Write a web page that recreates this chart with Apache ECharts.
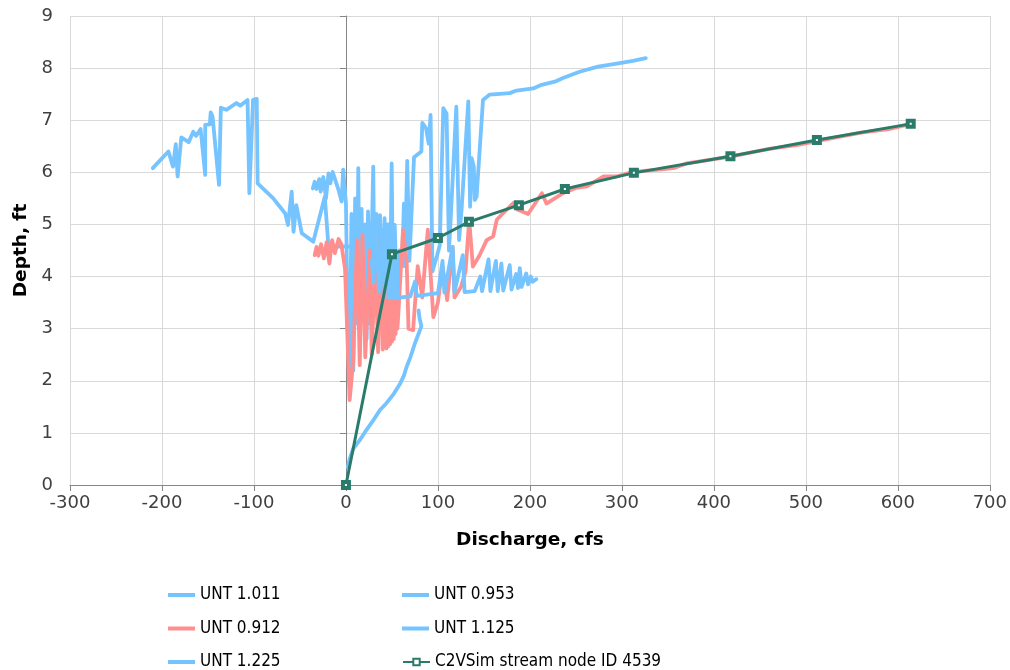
<!DOCTYPE html>
<html>
<head>
<meta charset="utf-8">
<script src="https://cdn.jsdelivr.net/npm/echarts@6/dist/echarts.min.js"></script>
<style>html,body{margin:0;padding:0;background:#fff;}#c{width:1010px;height:670px;}</style>
</head>
<body>
<div id="c"></div>
<script>
// ---- data (discharge cfs, depth ft) ----
var unt1011 = [[-210,6.08],[-193,6.40],[-188,6.11],[-185,6.54],[-183,5.92],[-179,6.67],[-171,6.58],[-166,6.78],[-163,6.70],[-158,6.83],[-153,5.95],[-153,6.91],[-148,6.92],[-147,7.15],[-145,7.07],[-138,5.76],[-136,7.24],[-130,7.20],[-119,7.33],[-115,7.28],[-107,7.39],[-105,5.60],[-101,7.39],[-97,7.41],[-96,5.79],[-79,5.50],[-66,5.21],[-64.5,5.18],[-63,4.99],[-59,5.63],[-57,4.86],[-54,5.37],[-48,4.83],[-35.5,4.67],[-23,5.53],[-19,4.57],[0,4.58],[15,4.57]];
var unt0953 = [[-36,5.69],[-34,5.82],[-32,5.68],[-29,5.87],[-27.5,5.63],[-24.6,5.91],[-21.7,5.50],[-19,5.98],[-17,5.79],[-14.5,6.01],[-8,5.66],[-4.7,5.44],[-3,6.05],[0,5.41],[2,3.0],[4,2.1],[6,5.2],[8,2.2],[10,5.5],[12,3.1],[13.4,6.08],[15,2.85],[17,5.3],[19,3.2],[21,5.0],[22.5,2.8],[24,5.25],[26,3.1],[29.7,6.11],[31,3.6],[33,5.2],[35,3.4],[37,5.18],[39,3.7],[42,5.12],[44,3.5],[46,5.0],[48,3.61],[49.7,6.17],[51,4.0],[53,4.99],[55,3.9],[58,4.5],[61,4.2],[63,5.4],[64,4.2],[66.6,6.22],[69,4.3],[74,6.29],[82,6.40],[83,6.95],[87,6.85],[90,6.55],[92,7.10],[94,4.1],[99,4.4],[102,4.6],[105.8,7.23],[109.4,7.13],[112,4.5],[114,5.15],[120,7.26],[123,4.7],[125.7,5.28],[133,7.36],[135,5.34],[136.6,6.27],[139,6.11],[140,5.47],[142,5.53],[149,7.39],[156,7.49],[164,7.50],[178,7.52],[185.5,7.57],[203.6,7.61],[212.7,7.68],[227,7.74],[236,7.81],[254,7.93],[274,8.03],[296,8.09],[312,8.14],[326,8.19]];
var unt0912 = [[-34,4.41],[-32,4.57],[-30,4.40],[-27,4.62],[-24,4.35],[-21,4.66],[-18,4.25],[-15,4.70],[-12,4.45],[-8,4.72],[-5,4.62],[-1,4.15],[4,1.63],[8,2.4],[12,4.7],[15,2.3],[18,4.8],[21,2.45],[26,4.5],[28,2.5],[32,4.3],[35,2.55],[38,4.85],[40,2.6],[42,4.2],[44,2.62],[45,4.0],[46,2.66],[47,3.95],[48,2.7],[49,3.9],[50,2.75],[51,3.9],[52,2.8],[53,3.85],[54,2.9],[55,3.8],[56,3.0],[58,3.6],[62,4.89],[66,4.3],[68,3.0],[73,2.97],[78,4.2],[83,3.6],[89,4.9],[95,3.22],[100,3.5],[105,4.2],[110,3.55],[116,4.57],[118,3.6],[125,3.8],[130,4.1],[134,5.09],[138,4.19],[145,4.4],[153,4.7],[160,4.77],[164,5.09],[170,5.2],[182,5.41],[187,5.28],[198,5.2],[213,5.6],[218,5.4],[236,5.6],[250,5.7],[262,5.73],[280,5.92],[294,5.92],[312,6.01],[340,6.05],[356,6.08],[370,6.17],[385,6.21],[418,6.30],[460,6.45],[490,6.52],[512,6.60],[560,6.76],[590,6.83],[612,6.92]];
var unt1125 = [[28,4.3],[30,3.9],[33,4.8],[36,3.7],[39,4.9],[42,3.6],[45,5.0],[47,3.6],[48,4.6],[50,3.6],[51,4.5],[52,3.6],[53,4.4],[54,3.6],[55,4.3],[57,3.58],[60,3.6],[70,3.62],[75,3.9],[77,3.63],[90,3.66],[100,3.68],[105,4.3],[107,3.69],[116,4.57],[118,3.7],[127,4.41],[129,3.7],[140,3.72],[146,4.0],[148,3.72],[155,4.33],[157,3.72],[163,4.3],[165,3.72],[169,4.25],[171,3.73],[178,4.22],[180,3.75],[185,4.05],[187,3.78],[189,4.16],[191,3.8],[196,4.06],[198,3.85],[201,4.0],[203,3.9],[207,3.95]];
var unt1225 = [[2,0.34],[4,0.5],[8,0.7],[15,0.86],[22,1.05],[30,1.25],[37,1.44],[44,1.57],[52,1.75],[59,1.95],[63,2.1],[66,2.27],[70,2.45],[75,2.72],[80,2.95],[82,3.05],[80,3.2],[79,3.35]];
var c2vsim = [[0,0],[50,4.43],[100,4.74],[133.7,5.05],[188,5.37],[238,5.68],[313,5.99],[418,6.31],[512,6.62],[614,6.93]];
var seriesNames = ['UNT 1.011','UNT 0.953','UNT 0.912','UNT 1.125','UNT 1.225','C2VSim stream node ID 4539'];

var BLUE = '#75C3FF', RED = '#FF8F8F', GREEN = '#2B7B6B';
function ln(name, data, color) {
  return { name: name, type: 'line', data: data, showSymbol: false, symbol: 'none',
    lineStyle: { color: color, width: 3.8, join: 'round', cap: 'round' }, itemStyle: { color: color } };
}
var legendText = { fontFamily: "'DejaVu Sans Condensed', 'DejaVu Sans', sans-serif", fontSize: 17, color: '#000', lineHeight: 20 };
function lg(left, top, names, plain) {
  var o = { orient: 'vertical', left: left, top: top, height: 120, itemWidth: plain ? 27 : 27, itemHeight: plain ? 4 : 8,
    itemGap: 13.5, textStyle: legendText, data: names };
  if (plain) o.icon = 'rect';
  return o;
}
var chart = echarts.init(document.getElementById('c'));
var axisFont = { fontFamily: 'DejaVu Sans', fontSize: 18, color: '#404040' };
var titleFont = { fontFamily: 'DejaVu Sans', fontWeight: 'bold', fontSize: 18.5, color: '#000' };
chart.setOption({
  animation: false,
  backgroundColor: '#fff',
  grid: { left: 70, right: 20, top: 16, bottom: 185 },
  xAxis: { type: 'value', min: -300, max: 700, interval: 100,
    name: 'Discharge, cfs', nameLocation: 'middle', nameGap: 46, nameTextStyle: titleFont,
    axisLine: { onZero: false, lineStyle: { color: '#868686' } },
    axisTick: { show: true, length: 6, lineStyle: { color: '#868686' } },
    axisLabel: Object.assign({ margin: 9 }, axisFont),
    splitLine: { show: true, lineStyle: { color: '#D9D9D9' } } },
  yAxis: { type: 'value', min: 0, max: 9, interval: 1,
    name: 'Depth, ft', nameLocation: 'middle', nameGap: 38, nameTextStyle: titleFont,
    axisLine: { show: true, lineStyle: { color: '#868686' } },
    axisTick: { show: true, length: 6, lineStyle: { color: '#868686' } },
    axisLabel: Object.assign({ margin: 17 }, axisFont),
    splitLine: { show: true, lineStyle: { color: '#D9D9D9' } } },
  legend: [
    lg(163, 580, [seriesNames[0], seriesNames[2], seriesNames[4]], true),
    lg(397, 580, [seriesNames[1], seriesNames[3]], true),
    lg(397, 647, [seriesNames[5]], false)
  ],
  series: [
    ln(seriesNames[0], unt1011, BLUE),
    ln(seriesNames[1], unt0953, BLUE),
    ln(seriesNames[2], unt0912, RED),
    ln(seriesNames[3], unt1125, BLUE),
    ln(seriesNames[4], unt1225, BLUE),
    { name: seriesNames[5], type: 'line', data: c2vsim, symbol: 'rect', symbolSize: 6, showSymbol: true,
      lineStyle: { color: GREEN, width: 3 },
      itemStyle: { color: '#fff', borderColor: GREEN, borderWidth: 4 } }
  ]
});
</script>
</body>
</html>
